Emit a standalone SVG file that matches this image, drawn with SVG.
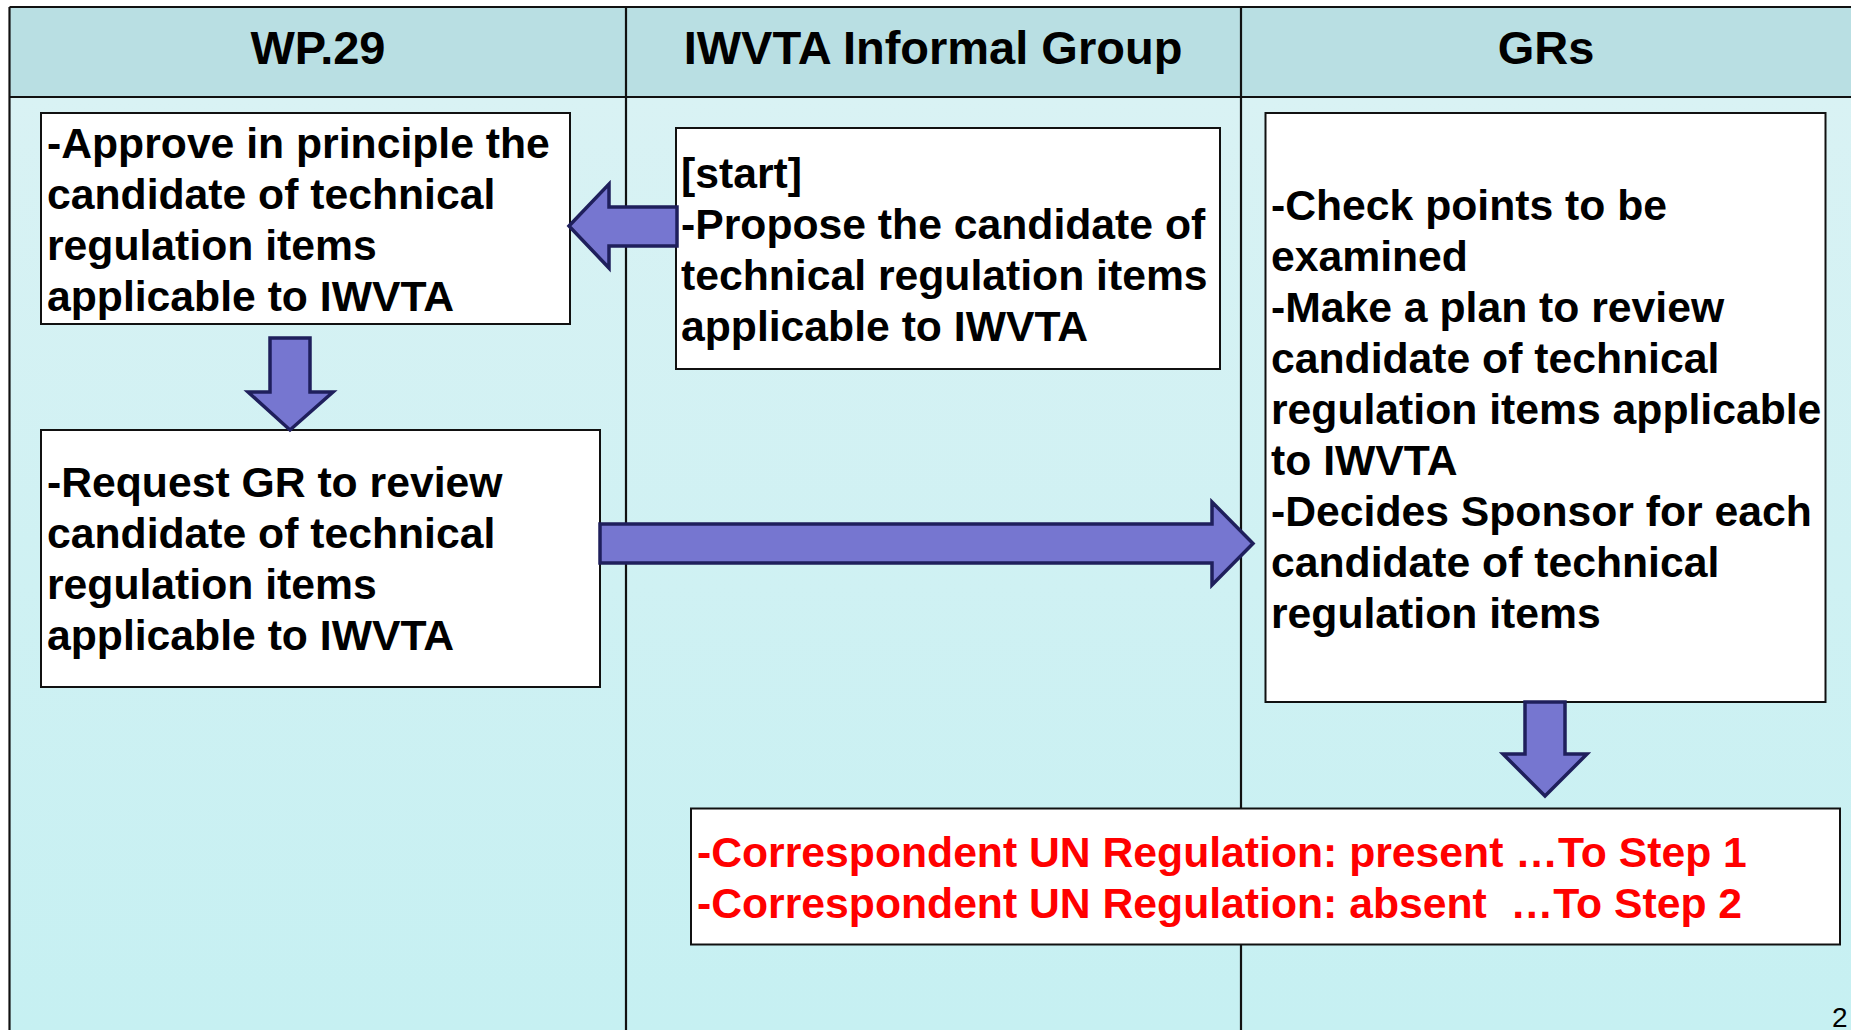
<svg xmlns="http://www.w3.org/2000/svg" width="1851" height="1030" viewBox="0 0 1851 1030">
  <defs>
    <linearGradient id="bodyGrad" x1="0" y1="0" x2="0" y2="1">
      <stop offset="0" stop-color="#d9f2f4"/>
      <stop offset="1" stop-color="#c6f0f2"/>
    </linearGradient>
    <style>
      .lane { fill: url(#bodyGrad); stroke: none; }
      .hdr { fill: #b9dfe3; stroke: none; }
      .grid { stroke: #111; stroke-width: 2.2; fill: none; }
      .hdrtxt { font-family: "Liberation Sans", Arial, sans-serif; font-weight: bold; font-size: 47px; fill: #000; text-anchor: middle; }
      .box { fill: #ffffff; stroke: #111; stroke-width: 2; }
      .txt { font-family: "Liberation Sans", Arial, sans-serif; font-weight: bold; font-size: 42.7px; fill: #000; }
      .red { fill: #ff0000; }
      .arrow { fill: #7676d0; stroke: #1f1f5c; stroke-width: 3.5; stroke-linejoin: miter; }
      .pg { font-family: "Liberation Sans", Arial, sans-serif; font-size: 28px; fill: #000; }
    </style>
  </defs>

  <rect x="0" y="0" width="1851" height="1030" fill="#ffffff"/>

  <g id="lanes">
    <rect class="lane" x="9.5" y="97" width="1842" height="933"/>
    <rect class="hdr" x="9.5" y="7" width="1842" height="90"/>
    <line class="grid" x1="9.5" y1="7" x2="1851" y2="7"/>
    <line class="grid" x1="9.5" y1="7" x2="9.5" y2="1030"/>
    <line class="grid" x1="9.5" y1="97" x2="1851" y2="97"/>
    <line class="grid" x1="626" y1="7" x2="626" y2="1030"/>
    <line class="grid" x1="1241" y1="7" x2="1241" y2="1030"/>
    <text class="hdrtxt" x="318" y="64">WP.29</text>
    <text class="hdrtxt" x="933" y="64">IWVTA Informal Group</text>
    <text class="hdrtxt" x="1546" y="64">GRs</text>
  </g>

  <g id="approve">
    <rect class="box" x="41" y="113" width="529" height="211"/>
    <text class="txt" x="47" y="158">-Approve in principle the</text>
    <text class="txt" x="47" y="209">candidate of technical</text>
    <text class="txt" x="47" y="260">regulation items</text>
    <text class="txt" x="47" y="311">applicable to IWVTA</text>
  </g>

  <g id="request">
    <rect class="box" x="41" y="430" width="559" height="257"/>
    <text class="txt" x="47" y="497">-Request GR to review</text>
    <text class="txt" x="47" y="548">candidate of technical</text>
    <text class="txt" x="47" y="599">regulation items</text>
    <text class="txt" x="47" y="650">applicable to IWVTA</text>
  </g>

  <g id="propose">
    <rect class="box" x="676" y="128" width="544" height="241"/>
    <text class="txt" x="681" y="188">[start]</text>
    <text class="txt" x="681" y="239">-Propose the candidate of</text>
    <text class="txt" x="681" y="290">technical regulation items</text>
    <text class="txt" x="681" y="341">applicable to IWVTA</text>
  </g>

  <g id="grs-review">
    <rect class="box" x="1265.5" y="113" width="560" height="589"/>
    <text class="txt" x="1271" y="220">-Check points to be</text>
    <text class="txt" x="1271" y="271">examined</text>
    <text class="txt" x="1271" y="322">-Make a plan to review</text>
    <text class="txt" x="1271" y="373">candidate of technical</text>
    <text class="txt" x="1271" y="424">regulation items applicable</text>
    <text class="txt" x="1271" y="475">to IWVTA</text>
    <text class="txt" x="1271" y="526">-Decides Sponsor for each</text>
    <text class="txt" x="1271" y="577">candidate of technical</text>
    <text class="txt" x="1271" y="628">regulation items</text>
  </g>

  <g id="outcome">
    <rect class="box" x="691" y="808.5" width="1149" height="136"/>
    <text class="txt red" x="697" y="867">-Correspondent UN Regulation: present …To Step 1</text>
    <text class="txt red" x="697" y="918" xml:space="preserve">-Correspondent UN Regulation: absent  …To Step 2</text>
  </g>

  <g id="connectors">
    <polygon class="arrow" points="569,226 609,184 609,207 677,207 677,246 609,246 609,268"/>
    <polygon class="arrow" points="270,338 310,338 310,392 333,392 290,430 248,392 270,392"/>
    <polygon class="arrow" points="600,524 1212,524 1212,502 1253,543.5 1212,585 1212,563 600,563"/>
    <polygon class="arrow" points="1525,702 1565,702 1565,754 1587,754 1545,796 1503,754 1525,754"/>
  </g>

  <text class="pg" x="1832" y="1027">2</text>
</svg>
